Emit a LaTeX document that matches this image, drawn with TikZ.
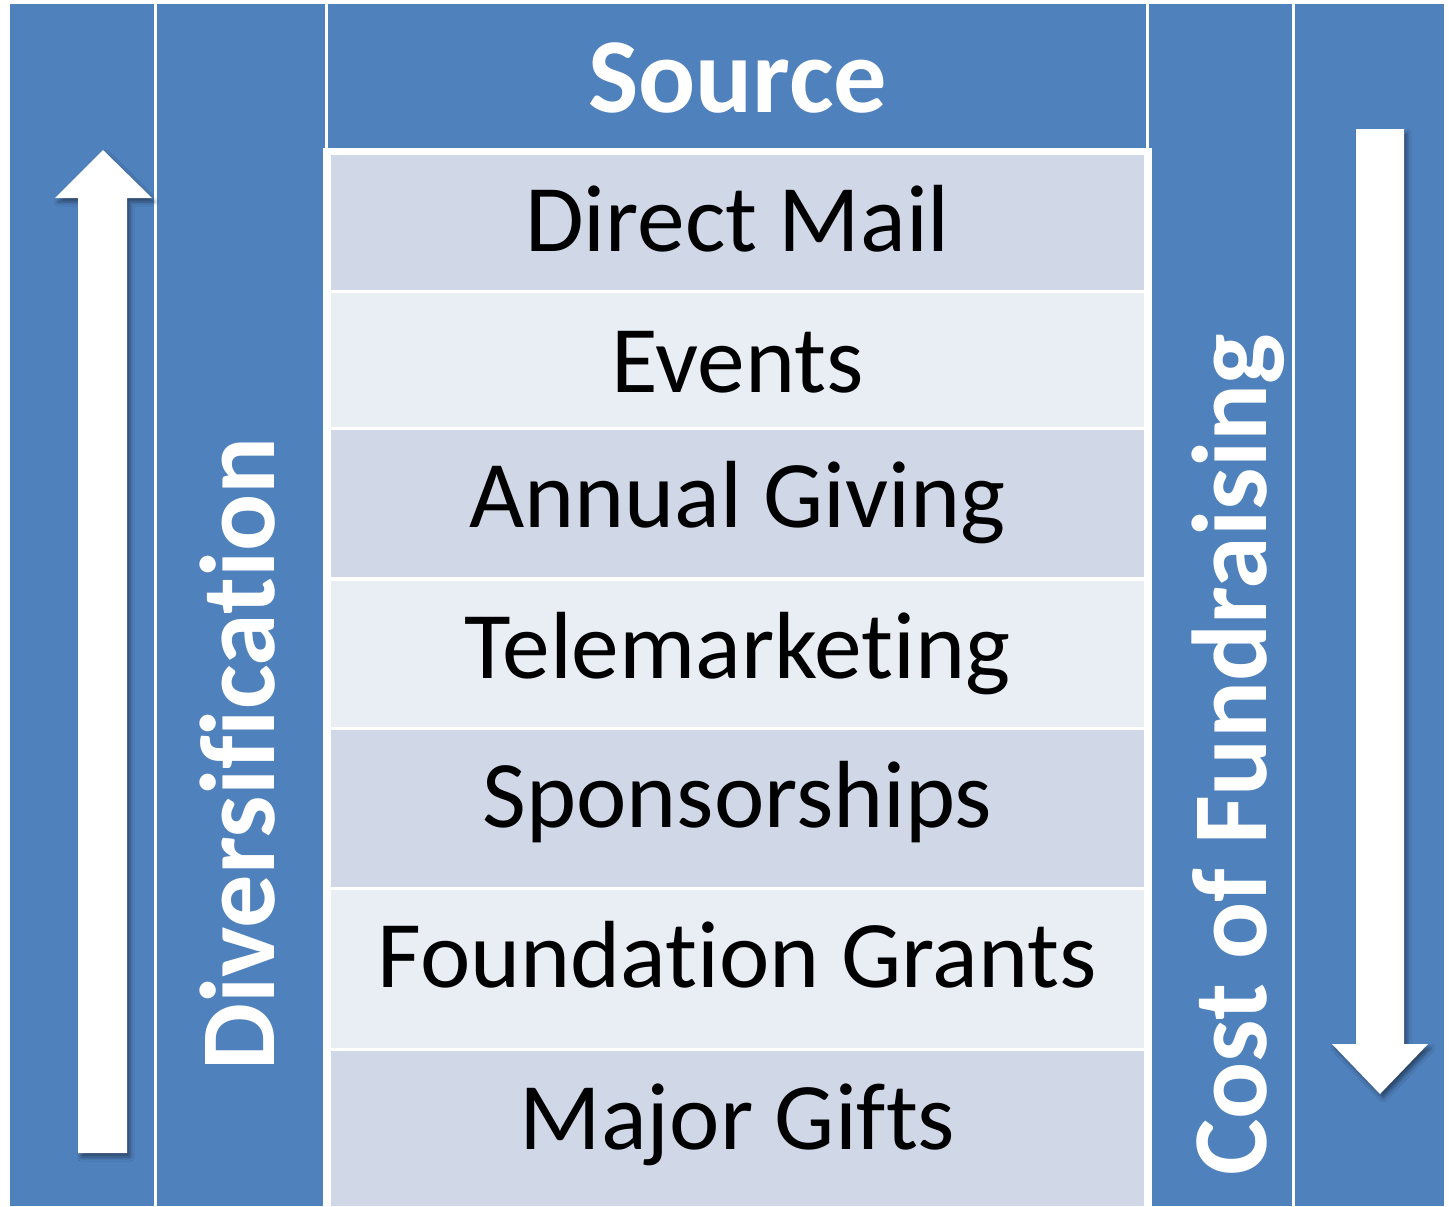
\documentclass[tikz,border=0pt]{standalone}
\usepackage{fontspec}
\setmainfont{Carlito}[Ligatures=NoCommon]
\usetikzlibrary{shadows.blur}
\definecolor{band}{HTML}{4F81BD}
\definecolor{rowdark}{HTML}{D0D8E8}
\definecolor{rowlight}{HTML}{E9EDF4}

\begin{document}
\begin{tikzpicture}
		[x=0.5pt,y=-0.5pt,
		col/.style={fill=band},
		dk/.style={fill=rowdark},
		lt/.style={fill=rowlight},
		item/.style={inner sep=0pt,text height=30pt,text depth=0pt,font=\fontsize{47.7}{57}\selectfont},
		head/.style={inner sep=0pt,text height=33pt,text depth=0pt,text=white,font=\bfseries\fontsize{53.2}{63}\selectfont},
		arr/.style={fill=white,blur shadow={shadow xshift=1.5pt,shadow yshift=-2pt,shadow blur radius=2pt,shadow opacity=45}}]

		\useasboundingbox (0,0) rectangle (1449,1206);

		% blue bands
		\fill[col] (10,4) rectangle (154,1206);
		\fill[col] (157,4) rectangle (325,1206);
		\fill[col] (328,4) rectangle (1146,148);
		\fill[col] (1149,4) rectangle (1292,1206);
		\fill[col] (1295,4) rectangle (1444,1206);

		% table
		\fill[white] (323,148) rectangle (1152,1206);
		\fill[dk] (331,155) rectangle (1144,290);
		\fill[lt] (331,293) rectangle (1144,427);
		\fill[dk] (331,430) rectangle (1144,577);
		\fill[lt] (331,581) rectangle (1144,727);
		\fill[dk] (331,730) rectangle (1144,887);
		\fill[lt] (331,890) rectangle (1144,1048);
		\fill[dk] (331,1051) rectangle (1144,1206);

		% arrows
		\fill[arr] (78,1153) -- (78,198) -- (55,198) -- (103,150) -- (152,198)
			-- (127,198) -- (127,1153) -- cycle;
		\fill[arr] (1356,129) -- (1404,129) -- (1404,1044) -- (1428,1044)
			-- (1380,1094) -- (1332,1044) -- (1356,1044) -- cycle;

		\node[head] (src) at (737.5,79) {Source};
		\node[head,rotate=90] (div) at (241,754) {Diversification};
		\node[head,rotate=90] (cost) at (1233,755) {Cost of Fundraising};

		\node[item] (r1) at (737.5,221) {Direct Mail};
		\node[item] (r2) at (737.5,362.5) {Events};
		\node[item] (r3) at (737.5,497) {Annual Giving};
		\node[item] (r4) at (737.5,648) {Telemarketing};
		\node[item] (r5) at (737.5,797) {Sponsorships};
		\node[item] (r6) at (737.5,957.5) {Foundation Grants};
		\node[item] (r7) at (737.5,1119) {Major Gifts};

	\end{tikzpicture}
\end{document}
